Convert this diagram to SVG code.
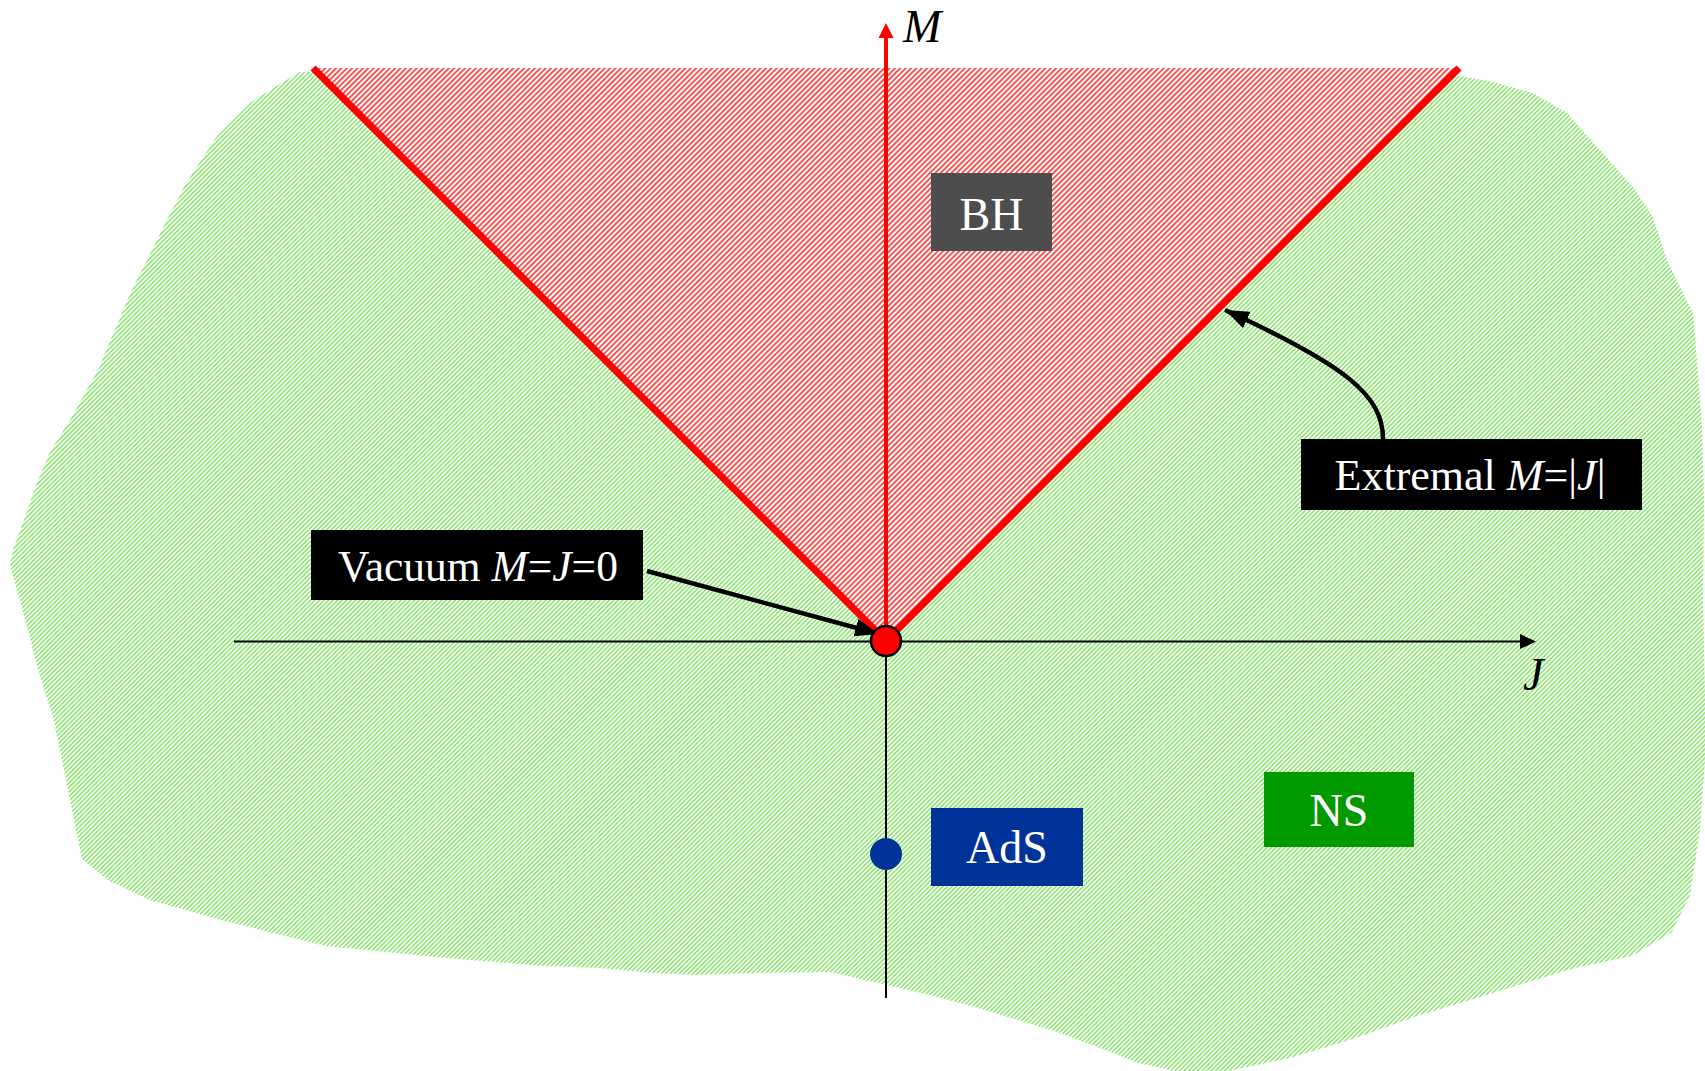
<svg xmlns="http://www.w3.org/2000/svg" width="1705" height="1071" viewBox="0 0 1705 1071">
<style>
.lbl{font-family:"Liberation Serif","Times New Roman",serif;fill:#ffffff;text-anchor:middle}
.ax{font-family:"Liberation Serif","Times New Roman",serif;font-style:italic;fill:#000000}
.it{font-style:italic}
</style>
<defs>
<pattern id="hg" width="3.2" height="3.2" patternUnits="userSpaceOnUse" patternTransform="rotate(45)">
<rect x="0" y="0" width="1.5" height="3.2" fill="#86e86a"/>
</pattern>
<pattern id="hr" width="3.8" height="3.8" patternUnits="userSpaceOnUse" patternTransform="rotate(45)">
<rect x="0" y="0" width="1.7" height="3.8" fill="#ff3b3b"/>
</pattern>
<marker id="big" viewBox="0 0 10 10" refX="10" refY="5" markerWidth="24" markerHeight="18" orient="auto" markerUnits="userSpaceOnUse" preserveAspectRatio="none">
<path d="M0,0 L10,5 L0,10 Z" fill="#000"/>
</marker>
</defs>
<rect width="1705" height="1071" fill="#ffffff"/>
<g id="ns-region">
<path fill="url(#hg)" d="M300,72 L1460,76 L1493,82 L1533,93 L1567,113 L1600,150 L1633,187 L1653,217 L1667,260 L1683,293 L1693,313 L1697,360 L1702,427 L1704,500 L1703,600 L1705,700 L1705,760 L1700,830 L1690,895 L1672,932 L1632,956 L1575,968 L1522,984 L1470,1000 L1414,1017 L1350,1040 L1290,1058 L1229,1071 L1177,1071 L1138,1063 L1100,1048 L1060,1033 L985,1010 L930,995 L886,985 L830,972 L760,973 L696,975 L652,973 L600,968 L544,966 L435,957 L326,946 L217,919 L150,900 L109,881 L82,859 L70,800 L60,750 L53,717 L42,683 L33,650 L20,600 L10,565 L13,550 L25,517 L37,483 L50,452 L70,420 L98,370 L130,294 L163,228 L185,185 L217,136 L250,103 L283,82 Z"/>
</g>
<g id="bh-region">
<polygon points="313,68 1459,68 886,641" fill="#ffffff"/>
<polygon points="313,68 1459,68 886,641" fill="url(#hr)"/>
</g>
<g id="connectors">
<line x1="313" y1="68" x2="886" y2="641" stroke="#ff0000" stroke-width="7"/>
<line x1="1459" y1="68" x2="886" y2="641" stroke="#ff0000" stroke-width="7"/>
<line x1="886" y1="641" x2="886" y2="37" stroke="#ff0000" stroke-width="4"/>
<polygon points="886,23 893.5,38 878.5,38" fill="#ff0000"/>
<line x1="234" y1="641.5" x2="1521" y2="641.5" stroke="#000" stroke-width="2"/>
<polygon points="1536,641.5 1520,634 1520,649" fill="#000"/>
<line x1="886" y1="641" x2="886" y2="998" stroke="#000" stroke-width="2"/>
<line x1="647" y1="571" x2="879" y2="634" stroke="#000" stroke-width="4.5" marker-end="url(#big)"/>
<path d="M1383,439 C1383,395 1345,365 1225,310" fill="none" stroke="#000" stroke-width="4.5" marker-end="url(#big)"/>
</g>
<g id="axis-labels">
<text class="ax" x="903" y="42" font-size="46">M</text>
<text class="ax" x="1523" y="690" font-size="46">J</text>
</g>
<g id="origin">
<circle cx="886" cy="641" r="15" fill="#ff0000" stroke="#000" stroke-width="2.5"/>
</g>
<g id="ads-point">
<circle cx="886" cy="854" r="16" fill="#003399"/>
</g>
<g id="BH">
<rect x="931" y="173" width="121" height="78" fill="#4d4d4d"/>
<text class="lbl" x="991.5" y="230" font-size="46">BH</text>
</g>
<g id="AdS">
<rect x="931" y="808" width="152" height="78" fill="#003399"/>
<text class="lbl" x="1007" y="863" font-size="46">AdS</text>
</g>
<g id="NS">
<rect x="1264" y="772" width="150" height="75" fill="#009900"/>
<text class="lbl" x="1339" y="826" font-size="46">NS</text>
</g>
<g id="vacuum">
<rect x="311" y="530" width="332" height="70" fill="#000"/>
<text class="lbl" x="478" y="581" font-size="43.5">Vacuum <tspan class="it">M</tspan>=<tspan class="it">J</tspan>=0</text>
</g>
<g id="extremal">
<rect x="1301" y="439" width="341" height="71" fill="#000"/>
<text class="lbl" x="1470" y="490" font-size="44">Extremal <tspan class="it">M</tspan>=|<tspan class="it">J</tspan>|</text>
</g>
</svg>
